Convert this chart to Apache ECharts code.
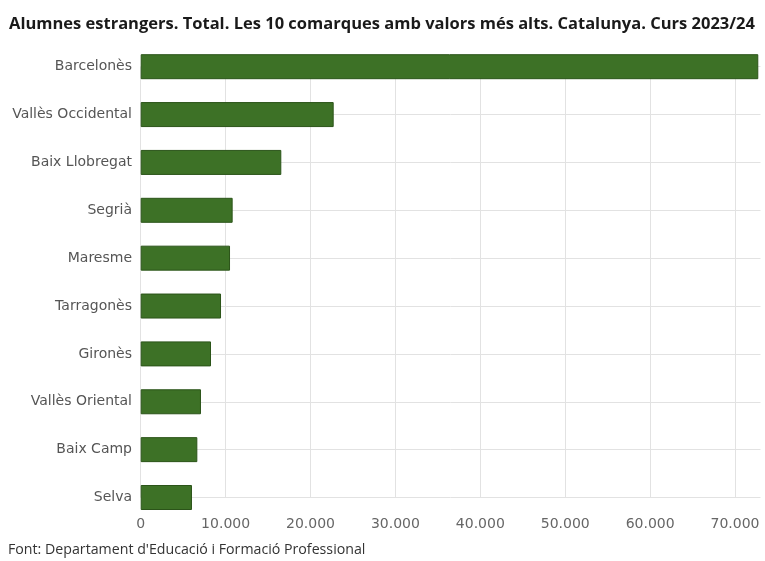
<!DOCTYPE html>
<html>
<head>
<meta charset="utf-8">
<script src="https://cdn.jsdelivr.net/npm/echarts@6/dist/echarts.min.js"></script>
<style>
html,body{margin:0;padding:0;background:#fff;}
#chart{width:765px;height:561px;}
</style>
</head>
<body>
<div id="chart"></div>
<script>
const categories = ["Barcelonès","Vallès Occidental","Baix Llobregat","Segrià","Maresme","Tarragonès","Gironès","Vallès Oriental","Baix Camp","Selva"];
const values = [72740, 22730, 16560, 10830, 10520, 9460, 8280, 7100, 6670, 6040];
const xTicks = [0, 10000, 20000, 30000, 40000, 50000, 60000, 70000];
const titleText = "Alumnes estrangers. Total. Les 10 comarques amb valors més alts. Catalunya. Curs 2023/24";
const sourceText = "Font: Departament d'Educació i Formació Professional";

function fmt(v){
  return String(Math.round(v)).replace(/\B(?=(\d{3})+(?!\d))/g, '.');
}

const chart = echarts.init(document.getElementById('chart'));
chart.setOption({
  animation: false,
  backgroundColor: '#ffffff',
  title: [{
    text: titleText,
    left: 4, top: 11,
    textStyle: {fontFamily: 'Open Sans', fontWeight: 'bold', fontSize: 16.5, color: '#1a1a1a'}
  },{
    text: sourceText,
    left: 3, top: 538,
    textStyle: {fontFamily: 'Open Sans', fontWeight: 'normal', fontSize: 14.2, color: '#333'}
  }],
  grid: {left: 140.7, right: 4.5, top: 66.7, bottom: 63.5, containLabel: false},
  xAxis: {
    type: 'value', min: 0, max: 73000, interval: 10000,
    axisLine: {show: false}, axisTick: {show: false},
    axisLabel: {
      margin: 20, color: '#666', fontFamily: 'DejaVu Sans', fontSize: 14,
      showMaxLabel: false,
      formatter: function(v){ return xTicks.indexOf(v) >= 0 ? fmt(v) : ''; }
    },
    splitLine: {show: true, showMaxLine: false, lineStyle: {color: '#e2e2e2', width: 1}}
  },
  yAxis: {
    type: 'category', data: categories, inverse: true, boundaryGap: false,
    axisLine: {show: false}, axisTick: {show: false},
    axisLabel: {margin: 8.7, color: '#555', fontFamily: 'DejaVu Sans', fontSize: 14},
    splitLine: {show: true, lineStyle: {color: '#e2e2e2', width: 1}}
  },
  series: [{
    type: 'bar', data: values, barWidth: 25, clip: false,
    itemStyle: {color: '#3d7126', borderColor: '#2b5419', borderWidth: 1}
  }]
});
</script>
</body>
</html>
